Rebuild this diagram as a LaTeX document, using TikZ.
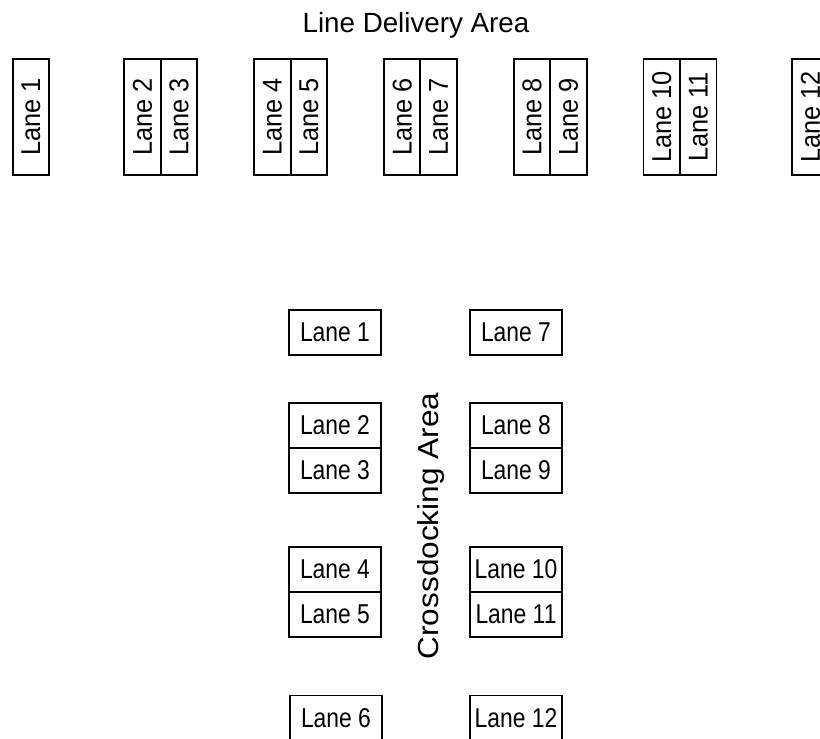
\documentclass[tikz,border=0pt]{standalone}
\usepackage{fontspec}
\setmainfont{Liberation Sans}
\newfontfamily\lanefont[FakeStretch=0.93]{Liberation Sans}
\newfontfamily\narrowfont[FakeStretch=0.84]{Liberation Sans}
\newfontfamily\widefont[FakeStretch=1.09]{Liberation Sans}
\usetikzlibrary{positioning}

\begin{document}
\begin{tikzpicture}[
x=0.02cm, y=-0.02cm,
lane/.style={draw=black, line width=1.1pt, outer sep=0, inner sep=0},
dock/.style={lane, rotate=90, minimum width=2.32cm, minimum height=0.73cm, font=\lanefont\fontsize{15.5}{18}\selectfont},
cross/.style={lane, minimum width=1.84cm, minimum height=0.9cm, font=\narrowfont\fontsize{15.5}{18}\selectfont}
]
\clip (0,0) rectangle (820,738);
% Line delivery area
\node[anchor=base, font=\fontsize{15.8}{19}\selectfont] (delivery) at (416,32.5) {Line Delivery Area};
\node[dock] (dl1) at (31,117) {Lane 1};
\foreach \k/\a/\b in {1/2/3,2/4/5,3/6/7,4/8/9,5/10/11}{
    \node[dock] (dl\a) at (31+129.8*\k-18.25,117) {Lane \a};
    \node[dock] (dl\b) at (31+129.8*\k+18.25,117) {Lane \b};
}
\node[dock] (dl12) at (810.5,117) {Lane 12};
% Crossdocking area
\node[rotate=90, anchor=base, font=\widefont\fontsize{16.5}{20}\selectfont] (crossdock) at (438,526) {Crossdocking Area};
\node[cross] (cl1) at (335,332.5) {Lane 1};
\node[cross] (cl2) at (335,425.5) {Lane 2};
\node[cross, below=0 of cl2] (cl3) {Lane 3};
\node[cross] (cl4) at (335,569.5) {Lane 4};
\node[cross, below=0 of cl4] (cl5) {Lane 5};
\node[cross] (cl6) at (336,718) {Lane 6};
\node[cross] (cl7) at (516,332.5) {Lane 7};
\node[cross] (cl8) at (516,425.5) {Lane 8};
\node[cross, below=0 of cl8] (cl9) {Lane 9};
\node[cross] (cl10) at (516,569.5) {Lane 10};
\node[cross, below=0 of cl10] (cl11) {Lane 11};
\node[cross] (cl12) at (516,718) {Lane 12};
\end{tikzpicture}
\end{document}
